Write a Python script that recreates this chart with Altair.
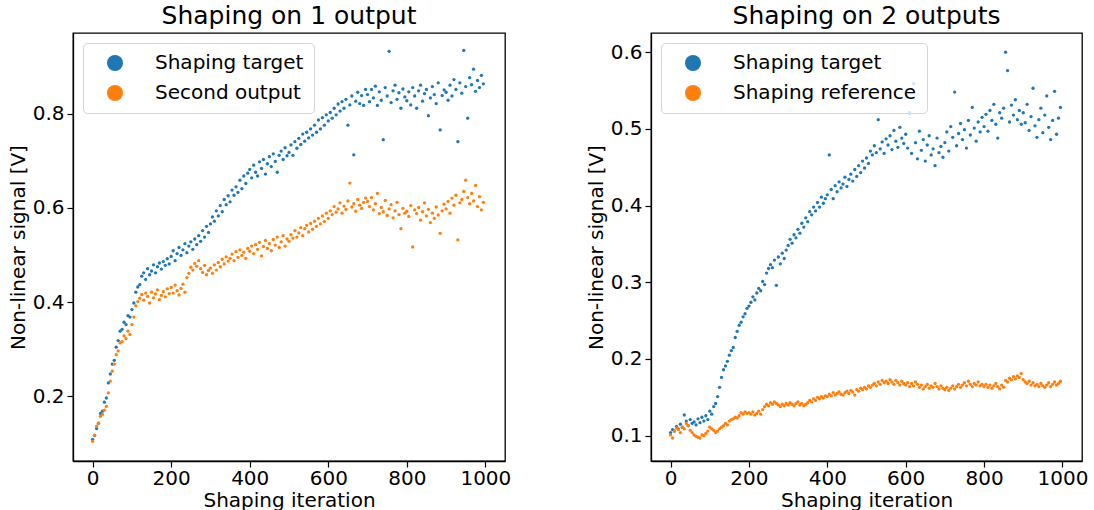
import altair as alt
import pandas as pd

# iteration index (every 5th shaping iteration)
iterations = list(range(0, 1000, 5))

# ---- Panel 1: Shaping on 1 output ----
left_target = [
    0.108, 0.116, 0.131, 0.142, 0.163, 0.168, 0.187, 0.196, 0.228, 0.247, 0.268, 0.276, 0.304, 0.318, 0.338, 0.342, 0.357, 0.352, 0.371, 0.368,
    0.384, 0.398, 0.421, 0.432, 0.437, 0.455, 0.462, 0.448, 0.471, 0.458, 0.466, 0.479, 0.462, 0.475, 0.483, 0.470, 0.486, 0.478, 0.492, 0.481,
    0.497, 0.509, 0.488, 0.503, 0.516, 0.499, 0.511, 0.524, 0.505, 0.519, 0.528, 0.512, 0.534, 0.522, 0.541, 0.529, 0.552, 0.538, 0.561, 0.548,
    0.566, 0.581, 0.572, 0.594, 0.583, 0.605, 0.592, 0.618, 0.607, 0.626, 0.613, 0.638, 0.627, 0.645, 0.633, 0.659, 0.641, 0.668, 0.652, 0.674,
    0.682, 0.664, 0.691, 0.676, 0.668, 0.698, 0.684, 0.703, 0.672, 0.694, 0.709, 0.688, 0.715, 0.699, 0.676, 0.712, 0.721, 0.703, 0.728, 0.711,
    0.718, 0.734, 0.712, 0.741, 0.727, 0.748, 0.735, 0.757, 0.742, 0.761, 0.749, 0.768, 0.755, 0.776, 0.761, 0.787, 0.768, 0.792, 0.776, 0.798,
    0.785, 0.803, 0.791, 0.812, 0.798, 0.821, 0.806, 0.826, 0.812, 0.831, 0.776, 0.819, 0.838, 0.713, 0.827, 0.846, 0.822, 0.839, 0.818, 0.852,
    0.841, 0.826, 0.852, 0.834, 0.859, 0.818, 0.847, 0.829, 0.745, 0.856, 0.838, 0.933, 0.824, 0.849, 0.861, 0.831, 0.845, 0.812, 0.853, 0.836,
    0.828, 0.847, 0.819, 0.856, 0.838, 0.812, 0.849, 0.861, 0.827, 0.843, 0.852, 0.796, 0.834, 0.858, 0.841, 0.822, 0.866, 0.766, 0.839, 0.851,
    0.846, 0.829, 0.861, 0.838, 0.873, 0.852, 0.741, 0.866, 0.844, 0.935, 0.858, 0.791, 0.877, 0.862, 0.895, 0.848, 0.871, 0.856, 0.882, 0.864,
]
left_second = [
    0.104, 0.117, 0.136, 0.143, 0.157, 0.161, 0.170, 0.178, 0.207, 0.232, 0.253, 0.268, 0.288, 0.296, 0.313, 0.316, 0.328, 0.322, 0.338, 0.331,
    0.352, 0.368, 0.392, 0.401, 0.408, 0.416, 0.404, 0.419, 0.412, 0.398, 0.421, 0.409, 0.417, 0.426, 0.405, 0.414, 0.422, 0.411, 0.428, 0.418,
    0.431, 0.419, 0.436, 0.424, 0.415, 0.429, 0.438, 0.421, 0.452, 0.461, 0.474, 0.468, 0.482, 0.476, 0.488, 0.471, 0.463, 0.478, 0.458, 0.467,
    0.472, 0.461, 0.479, 0.468, 0.484, 0.475, 0.491, 0.481, 0.496, 0.487, 0.493, 0.502, 0.488, 0.507, 0.495, 0.511, 0.499, 0.506, 0.493, 0.514,
    0.508, 0.519, 0.503, 0.522, 0.512, 0.527, 0.498, 0.518, 0.531, 0.514, 0.524, 0.509, 0.533, 0.521, 0.538, 0.516, 0.528, 0.541, 0.519, 0.534,
    0.529, 0.543, 0.536, 0.552, 0.538, 0.547, 0.558, 0.541, 0.556, 0.563, 0.549, 0.567, 0.555, 0.572, 0.561, 0.578, 0.566, 0.583, 0.571, 0.589,
    0.578, 0.594, 0.586, 0.603, 0.591, 0.598, 0.611, 0.589, 0.604, 0.597, 0.615, 0.653, 0.602, 0.609, 0.593, 0.618, 0.606, 0.599, 0.612, 0.621,
    0.614, 0.603, 0.622, 0.596, 0.609, 0.631, 0.588, 0.601, 0.592, 0.616, 0.584, 0.598, 0.607, 0.579, 0.594, 0.612, 0.586, 0.556, 0.599, 0.589,
    0.593, 0.582, 0.605, 0.517, 0.596, 0.588, 0.601, 0.574, 0.592, 0.611, 0.583, 0.597, 0.569, 0.589, 0.578, 0.602, 0.585, 0.546, 0.594, 0.608,
    0.598, 0.614, 0.589, 0.621, 0.606, 0.627, 0.532, 0.611, 0.618, 0.635, 0.659, 0.622, 0.609, 0.631, 0.615, 0.648, 0.603, 0.624, 0.596, 0.612,
]

# ---- Panel 2: Shaping on 2 outputs ----
right_target = [
    0.104, 0.108, 0.106, 0.112, 0.109, 0.115, 0.111, 0.127, 0.119, 0.113, 0.121, 0.116, 0.118, 0.114, 0.122, 0.117, 0.124, 0.119, 0.126, 0.121,
    0.132, 0.128, 0.138, 0.142, 0.151, 0.163, 0.176, 0.186, 0.191, 0.197, 0.205, 0.211, 0.215, 0.228, 0.236, 0.244, 0.248, 0.255, 0.259, 0.266,
    0.269, 0.274, 0.281, 0.277, 0.286, 0.292, 0.289, 0.301, 0.297, 0.312, 0.318, 0.323, 0.319, 0.329, 0.296, 0.333, 0.324, 0.338, 0.331, 0.342,
    0.348, 0.356, 0.351, 0.362, 0.358, 0.369, 0.364, 0.377, 0.372, 0.384, 0.379, 0.392, 0.388, 0.398, 0.393, 0.404, 0.398, 0.411, 0.403, 0.409,
    0.414, 0.466, 0.421, 0.409, 0.426, 0.418, 0.431, 0.423, 0.428, 0.437, 0.425, 0.434, 0.441, 0.432, 0.447, 0.438, 0.452, 0.443, 0.458, 0.449,
    0.462, 0.455, 0.471, 0.466, 0.478, 0.469, 0.512, 0.474, 0.483, 0.468, 0.487, 0.479, 0.491, 0.473, 0.498, 0.484, 0.476, 0.502, 0.488, 0.481,
    0.493, 0.475, 0.521, 0.468, 0.559, 0.482, 0.461, 0.497, 0.472, 0.486, 0.458, 0.479, 0.491, 0.466, 0.474, 0.452, 0.488, 0.469, 0.477, 0.463,
    0.482, 0.496, 0.471, 0.503, 0.489, 0.548, 0.478, 0.494, 0.507, 0.486, 0.499, 0.475, 0.511, 0.492, 0.528, 0.501, 0.484, 0.509, 0.496, 0.515,
    0.503, 0.519, 0.497, 0.524, 0.511, 0.532, 0.506, 0.488, 0.521, 0.514, 0.527, 0.600, 0.576, 0.509, 0.531, 0.518, 0.538, 0.512, 0.524, 0.506,
    0.521, 0.508, 0.532, 0.498, 0.516, 0.553, 0.504, 0.489, 0.512, 0.527, 0.495, 0.518, 0.543, 0.502, 0.486, 0.511, 0.549, 0.493, 0.514, 0.528,
]
right_reference = [
    0.101, 0.097, 0.106, 0.110, 0.108, 0.104, 0.111, 0.109, 0.116, 0.113, 0.107, 0.104, 0.101, 0.099, 0.098, 0.097, 0.101, 0.100, 0.103, 0.106,
    0.111, 0.109, 0.107, 0.104, 0.106, 0.109, 0.111, 0.113, 0.116, 0.114, 0.119, 0.121, 0.122, 0.124, 0.123, 0.126, 0.130, 0.128, 0.131, 0.129,
    0.130, 0.128, 0.131, 0.127, 0.129, 0.132, 0.128, 0.134, 0.138, 0.141, 0.139, 0.143, 0.141, 0.144, 0.142, 0.140, 0.138, 0.141, 0.139, 0.142,
    0.140, 0.143, 0.141, 0.139, 0.142, 0.144, 0.140, 0.142, 0.139, 0.141, 0.143, 0.146, 0.144, 0.148, 0.146, 0.150, 0.148, 0.151, 0.149, 0.152,
    0.151, 0.154, 0.152, 0.156, 0.153, 0.155, 0.157, 0.154, 0.153, 0.156, 0.158, 0.155, 0.159, 0.157, 0.153, 0.160, 0.158, 0.162, 0.160, 0.163,
    0.161, 0.165, 0.163, 0.166, 0.168, 0.165, 0.170, 0.167, 0.172, 0.169, 0.171, 0.168, 0.173, 0.170, 0.167, 0.172, 0.169, 0.166, 0.171, 0.168,
    0.166, 0.169, 0.164, 0.168, 0.165, 0.170, 0.167, 0.163, 0.166, 0.161, 0.164, 0.167, 0.162, 0.165, 0.163, 0.168, 0.164, 0.161, 0.165, 0.162,
    0.160, 0.163, 0.159, 0.162, 0.165, 0.161, 0.164, 0.167, 0.163, 0.166, 0.169, 0.165, 0.171, 0.167, 0.164, 0.168, 0.166, 0.170, 0.165, 0.167,
    0.164, 0.167, 0.163, 0.166, 0.162, 0.165, 0.168, 0.164, 0.161, 0.166, 0.163, 0.172, 0.170, 0.175, 0.173, 0.177, 0.174, 0.178, 0.176, 0.181,
    0.173, 0.170, 0.168, 0.171, 0.166, 0.169, 0.165, 0.167, 0.164, 0.168, 0.165, 0.163, 0.166, 0.169, 0.164, 0.167, 0.170, 0.166, 0.168, 0.171,
]

left_names = ["Shaping target", "Second output"]
right_names = ["Shaping target", "Shaping reference"]
colors = ["#1f77b4", "#ff7f0e"]
x_ticks = [0, 200, 400, 600, 800, 1000]
left_y_ticks = [0.2, 0.4, 0.6, 0.8]
right_y_ticks = [0.1, 0.2, 0.3, 0.4, 0.5, 0.6]


def frame(names, a, b):
    return pd.DataFrame({
        "it": iterations + iterations,
        "v": a + b,
        "series": [names[0]] * len(a) + [names[1]] * len(b),
    })


def panel(df, names, title, ydom, yticks, w):
    legend = alt.Legend(
        title=None, orient="top-left", offset=10, padding=10,
        symbolOffset=12, labelOffset=30, rowPadding=10,
        symbolSize=256, symbolType="circle", symbolStrokeWidth=0,
        labelFontSize=20, labelColor="black", labelLimit=400,
        strokeColor="#d4d4d4", fillColor="rgba(255,255,255,0.8)",
        cornerRadius=4,
    )
    return alt.Chart(df).mark_circle(size=11, opacity=1).encode(
        x=alt.X("it:Q", title="Shaping iteration",
                scale=alt.Scale(domain=[-50, 1050], nice=False, zero=False),
                axis=alt.Axis(values=x_ticks, format="d", labelPadding=1,
                              titleBaseline="alphabetic", titleY=45)),
        y=alt.Y("v:Q", title="Non-linear signal [V]",
                scale=alt.Scale(domain=ydom, nice=False, zero=False),
                axis=alt.Axis(values=yticks, format=".1f")),
        color=alt.Color("series:N", sort=names,
                        scale=alt.Scale(domain=names, range=colors),
                        legend=legend),
        order=alt.Order("ord:Q"),
    ).transform_calculate(
        ord="datum.series == '%s' ? 0 : 1" % names[0]
    ).properties(
        width=w, height=428,
        title=alt.TitleParams(title, fontSize=25, fontWeight="normal",
                              color="black", offset=4, anchor="middle"),
    )


left = panel(frame(left_names, left_target, left_second), left_names,
             "Shaping on 1 output", [0.062, 0.972], left_y_ticks, 432)
right = panel(frame(right_names, right_target, right_reference), right_names,
              "Shaping on 2 outputs", [0.067, 0.625], right_y_ticks, 431)

chart = alt.hconcat(left, right, spacing=73).resolve_scale(
    color="independent"
).resolve_legend(color="independent").properties(
    padding={"left": 7, "top": 3, "right": 0, "bottom": 0}
).configure(
    font="DejaVu Sans"
).configure_view(
    stroke="black", strokeWidth=1.3
).configure_axis(
    labelFontSize=20, titleFontSize=20, titleFontWeight="normal",
    labelColor="black", titleColor="black", tickColor="black",
    domainColor="black", domainWidth=1.3, tickSize=6, tickWidth=1.2,
    labelPadding=3, titlePadding=4, grid=False, labelFlush=False,
)

chart.save("out.html", embed_options={"renderer": "svg", "actions": False})
